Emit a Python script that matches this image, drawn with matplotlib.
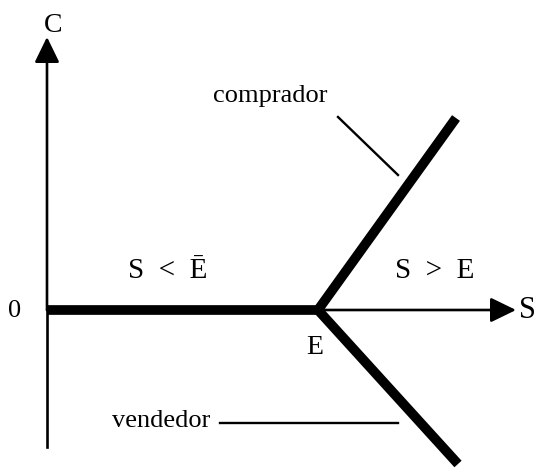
import matplotlib.pyplot as plt

# pixel-like coordinates of the sketch (y grows downward)
origin = (47, 310)
point_e = (318, 310)
axis_c_end = (47, 37)
axis_s_end = (516, 310)
axis_c_bottom = 447

# thick strategy lines
base_x = [origin[0], point_e[0]]
base_y = [origin[1], point_e[1]]
buyer_x = [point_e[0], 456]
buyer_y = [point_e[1], 118]
seller_x = [point_e[0], 458]
seller_y = [point_e[1], 464]

# leader lines for the labels
buyer_lead_x = [338, 398]
buyer_lead_y = [117, 175]
seller_lead_x = [220, 398]
seller_lead_y = [423, 423]

plt.rcParams['font.family'] = ['Liberation Serif', 'DejaVu Serif']

fig = plt.figure(figsize=(5.38, 4.69), dpi=100)
ax = fig.add_axes([0, 0, 1, 1])
ax.set_xlim(0, 538)
ax.set_ylim(469, 0)
ax.axis('off')

# axes with arrowheads
ax.plot([origin[0], origin[0]], [axis_c_bottom, origin[1]], color='black', lw=1.9)
arrow = dict(arrowstyle='-|>,head_length=0.78,head_width=0.38',
             mutation_scale=20, color='black', lw=1.9, shrinkA=0, shrinkB=0)
ax.annotate('', xy=axis_c_end, xytext=origin, arrowprops=arrow)
ax.annotate('', xy=axis_s_end, xytext=origin, arrowprops=arrow)

# thick lines
ax.plot(base_x, base_y, color='black', lw=7, solid_capstyle='butt')
ax.plot(buyer_x, buyer_y, color='black', lw=7, solid_capstyle='butt')
ax.plot(seller_x, seller_y, color='black', lw=7, solid_capstyle='butt')

ax.plot(buyer_lead_x, buyer_lead_y, color='black', lw=1.7)
ax.plot(seller_lead_x, seller_lead_y, color='black', lw=1.7)

# texts
ax.text(53, 26, 'C', fontsize=20, ha='center', va='center')
ax.text(15, 311, '0', fontsize=19, ha='center', va='center')
ax.text(519, 311, 'S', fontsize=22, ha='left', va='center')
ax.text(315, 347, 'E', fontsize=20, ha='center', va='center')
ax.text(168, 271, 'S  <  Ē', fontsize=21, ha='center', va='center')
ax.text(435, 271, 'S  >  E', fontsize=21, ha='center', va='center')
ax.text(213, 96, 'comprador', fontsize=19, ha='left', va='center')
ax.text(112, 421, 'vendedor', fontsize=19, ha='left', va='center')
ax.text(42, 468, 'Figura 1.5', fontsize=20, color='#888888', ha='left', va='top')

fig.savefig('out.png', dpi=100)
